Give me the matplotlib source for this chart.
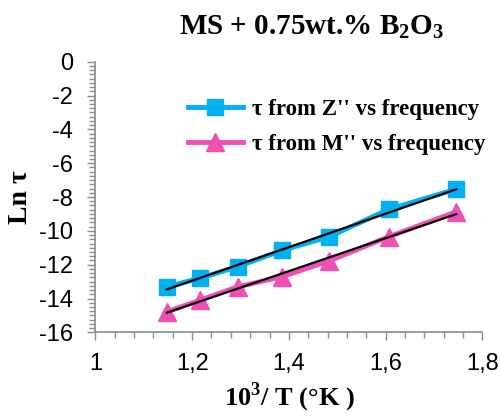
import numpy as np
import matplotlib
matplotlib.use("Agg")
from matplotlib import pyplot as plt
from matplotlib.ticker import MultipleLocator, FuncFormatter

# 10^3/T values and relaxation times (ln tau)
inv_temp = [1.148, 1.217, 1.294, 1.386, 1.483, 1.606, 1.746]
ln_tau_z = [-13.30, -12.79, -12.12, -11.15, -10.35, -8.73, -7.53]
ln_tau_m = [-14.78, -14.09, -13.31, -12.71, -11.78, -10.35, -8.87]

title = r"MS + 0.75wt.% B$_\mathbf{2}$O$_\mathbf{3}$"
label_z = "τ from Z'' vs frequency"
label_m = "τ from M'' vs frequency"

cyan = "#00B0F0"
pink = "#F04FB4"
axis_gray = "#8C8C8C"
serif = "Liberation Serif"

plt.rcParams["mathtext.fontset"] = "custom"
plt.rcParams["mathtext.rm"] = serif
plt.rcParams["mathtext.bf"] = serif + ":bold"

fig = plt.figure(figsize=(5.02, 4.17), dpi=100)
ax = fig.add_axes([0.190, 0.203, 0.771, 0.649])

ax.plot(inv_temp, ln_tau_z, color=cyan, lw=3.5, marker="s", ms=11.5,
        label=label_z, zorder=3)
ax.plot(inv_temp, ln_tau_m, color=pink, lw=3.5, marker="^", ms=12.5,
        label=label_m, zorder=3)

# linear fits
x = np.array(inv_temp)
for ys in (ln_tau_z, ln_tau_m):
    k, b = np.polyfit(x, ys, 1)
    ax.plot(x[[0, -1]], k * x[[0, -1]] + b, color="black", lw=1.6, zorder=4)

ax.set_xlim(1, 1.8)
ax.set_ylim(-16, 0)
ax.xaxis.set_major_locator(MultipleLocator(0.2))
ax.xaxis.set_minor_locator(MultipleLocator(0.04))
ax.yaxis.set_major_locator(MultipleLocator(2))
ax.yaxis.set_minor_locator(MultipleLocator(0.25))
ax.xaxis.set_major_formatter(FuncFormatter(lambda v, p: f"{v:g}".replace(".", ",")))
ax.yaxis.set_major_formatter(FuncFormatter(lambda v, p: f"{v:g}"))

for s in ("top", "right"):
    ax.spines[s].set_visible(False)
for s in ("left", "bottom"):
    ax.spines[s].set_color(axis_gray)
    ax.spines[s].set_linewidth(1.2)
ax.tick_params(which="both", direction="out", color=axis_gray, width=1.0,
               labelsize=17, labelcolor="black")
ax.tick_params(which="major", length=6)
ax.tick_params(which="minor", length=4)
ax.tick_params(axis="x", pad=9)
ax.tick_params(axis="y", pad=10)

for lab in ax.get_xticklabels() + ax.get_yticklabels():
    lab.set_fontfamily("Liberation Sans")

fig.text(0.620, 0.936, title, fontsize=21, fontweight="bold", family=serif,
         ha="center", va="center")
ax.set_xlabel("10$^\\mathbf{3}$/ T (°K )", fontsize=19, fontweight="bold",
              family=serif, labelpad=4)
ax.set_ylabel("Ln τ", fontsize=20, fontweight="bold", family=serif, labelpad=4)

ax.legend(loc="upper left", bbox_to_anchor=(0.215, 0.895), frameon=False,
          prop={"family": serif, "weight": "bold", "size": 16.5},
          handlelength=2.4, handletextpad=0.42, labelspacing=0.6,
          borderaxespad=0)

fig.savefig("out.png", dpi=100)
